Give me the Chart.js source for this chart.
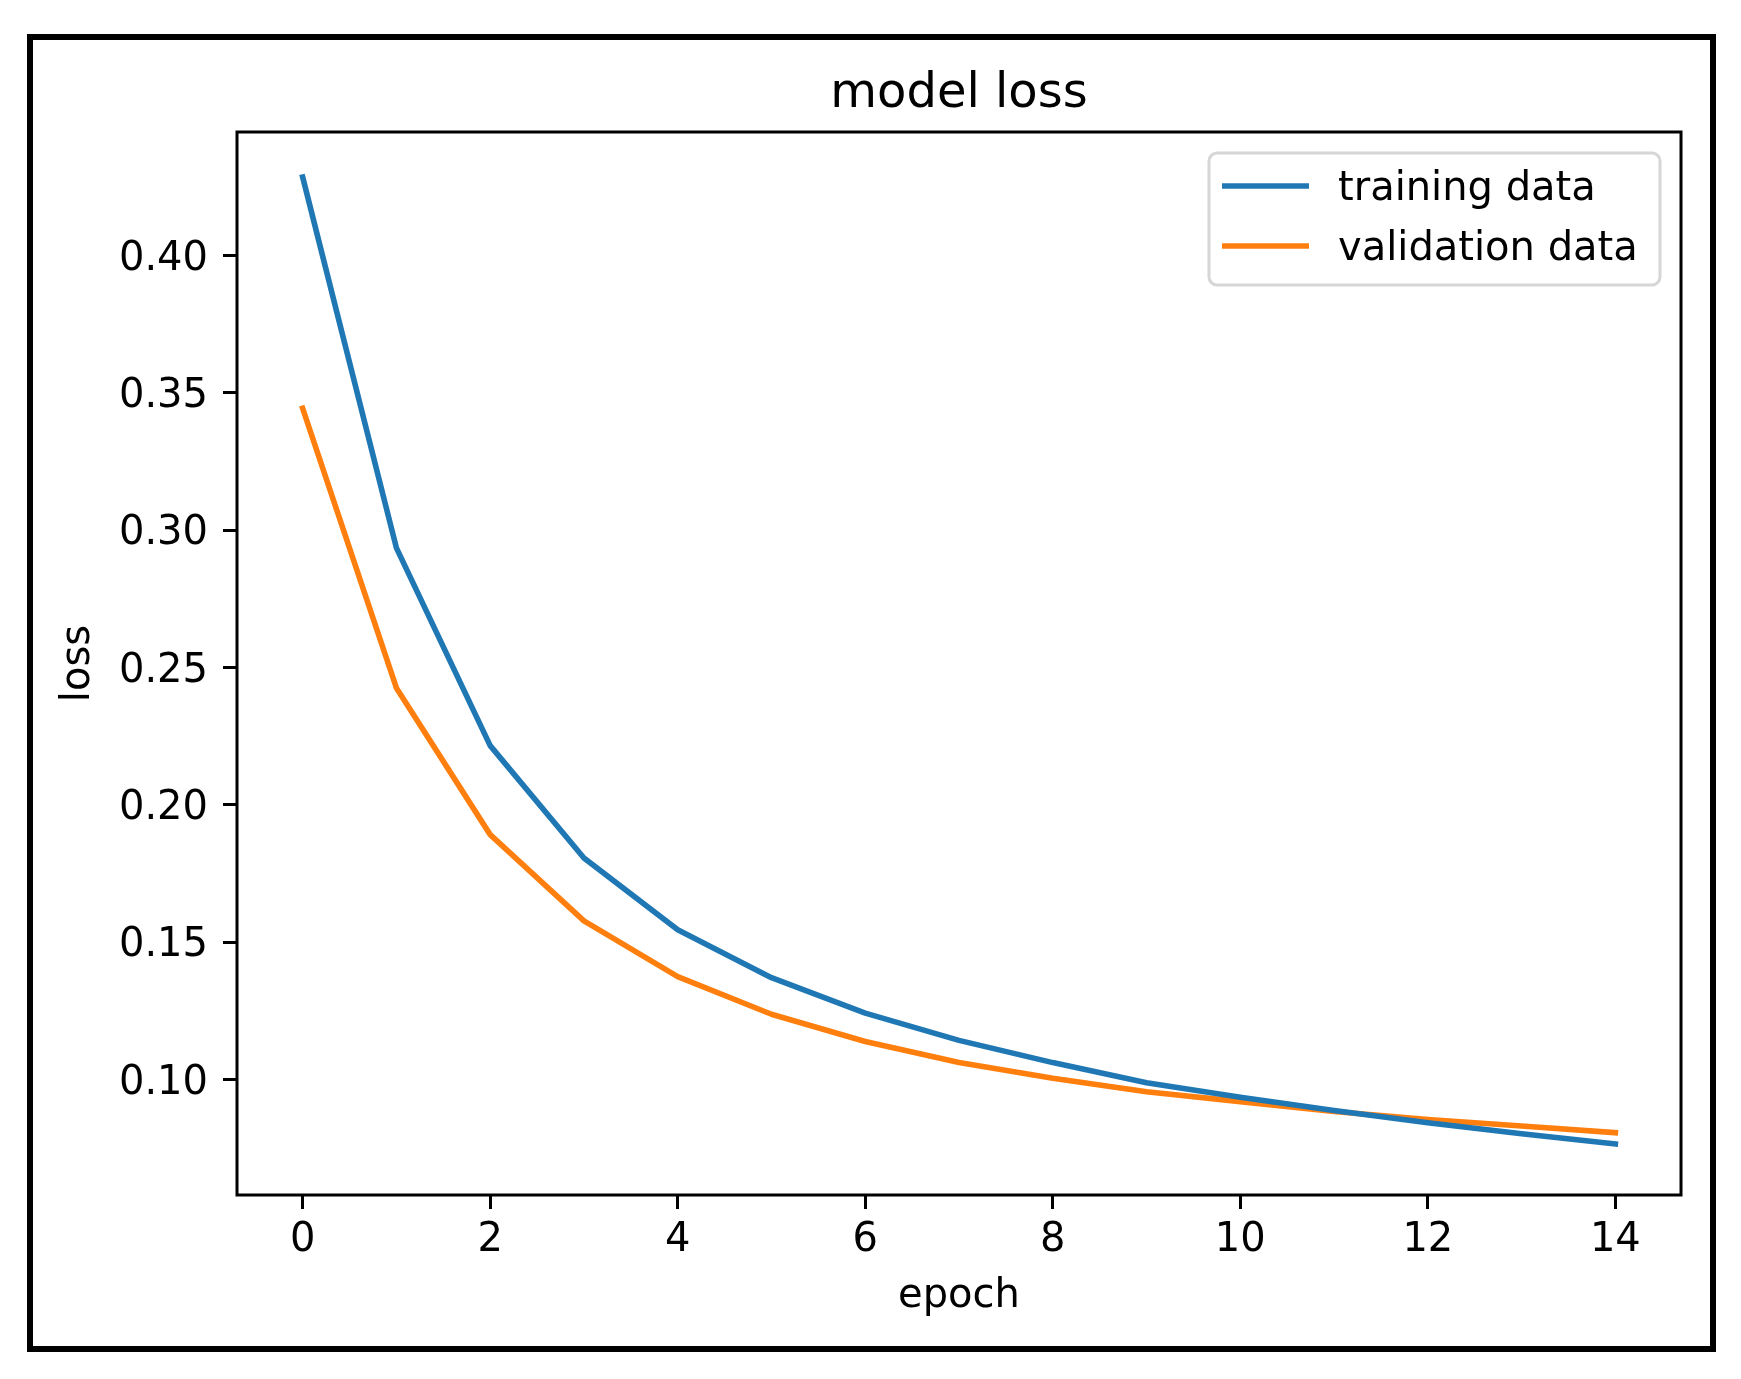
<!DOCTYPE html>
<html>
<head>
<meta charset="utf-8">
<title>model loss</title>
<script src="https://cdn.jsdelivr.net/npm/chart.js"></script>
<style>
  html, body { margin: 0; padding: 0; background: #fff; }
  canvas { display: block; }
</style>
</head>
<body>
<canvas id="lossChart" width="1741" height="1379"></canvas>
<script>
  // values
  const epochs = [0, 1, 2, 3, 4, 5, 6, 7, 8, 9, 10, 11, 12, 13, 14];
  const trainingLoss = [0.4285, 0.2935, 0.2215, 0.1806, 0.1545, 0.1370, 0.1241, 0.1142, 0.1061, 0.0988, 0.0935, 0.0887, 0.0842, 0.0802, 0.0765];
  const validationLoss = [0.3443, 0.2425, 0.1891, 0.1577, 0.1374, 0.1237, 0.1138, 0.1061, 0.1004, 0.0955, 0.0919, 0.0883, 0.0854, 0.0830, 0.0806];
  const seriesLabels = ["training data", "validation data"];
  const xTickValues = [0, 2, 4, 6, 8, 10, 12, 14];
  const yTickValues = [0.10, 0.15, 0.20, 0.25, 0.30, 0.35, 0.40];

  const FONT = "DejaVu Sans";
  Chart.defaults.font.family = FONT;
  Chart.defaults.color = "#000";

  function points(ys) {
    return epochs.map((e, i) => ({ x: e, y: ys[i] }));
  }

  // spines, outer border and the legend box in the upper right corner
  const decorPlugin = {
    id: "decor",
    afterDraw(chart) {
      const ctx = chart.ctx;
      const a = chart.chartArea;

      ctx.save();
      ctx.strokeStyle = "#000";
      ctx.lineWidth = 3;
      ctx.strokeRect(a.left, a.top, a.right - a.left, a.bottom - a.top);

      ctx.lineWidth = 6;
      ctx.strokeRect(30, 37, 1683, 1312);

      // legend
      ctx.beginPath();
      ctx.roundRect(1209, 153, 451, 132, 8);
      ctx.fillStyle = "#fff";
      ctx.fill();
      ctx.lineWidth = 3;
      ctx.strokeStyle = "#d6d6d6";
      ctx.stroke();

      const rows = [186, 246];
      chart.data.datasets.forEach((ds, i) => {
        const y = rows[i];
        ctx.beginPath();
        ctx.moveTo(1222, y);
        ctx.lineTo(1309, y);
        ctx.lineWidth = 5.4;
        ctx.strokeStyle = ds.borderColor;
        ctx.lineCap = "butt";
        ctx.stroke();

        ctx.fillStyle = "#000";
        ctx.font = "40px '" + FONT + "'";
        ctx.textAlign = "left";
        ctx.textBaseline = "alphabetic";
        ctx.fillText(ds.label, 1338, y + 14);
      });
      ctx.restore();
    }
  };

  const tickFont = { family: FONT, size: 40 };

  new Chart(document.getElementById("lossChart"), {
    type: "line",
    data: {
      datasets: [
        {
          label: seriesLabels[0],
          data: points(trainingLoss),
          borderColor: "#1f77b4",
          borderWidth: 5.6,
          pointRadius: 0,
          tension: 0,
          borderCapStyle: "square",
          borderJoinStyle: "round"
        },
        {
          label: seriesLabels[1],
          data: points(validationLoss),
          borderColor: "#ff7f0e",
          borderWidth: 5.6,
          pointRadius: 0,
          tension: 0,
          borderCapStyle: "square",
          borderJoinStyle: "round"
        }
      ]
    },
    options: {
      responsive: false,
      animation: false,
      devicePixelRatio: 1,
      layout: {
        padding: { top: 0, right: 60, bottom: 0, left: 0 }
      },
      plugins: {
        legend: { display: false },
        tooltip: { enabled: false },
        title: {
          display: true,
          text: "model loss",
          fullSize: false,
          color: "#000",
          font: { family: FONT, size: 48, weight: "normal" },
          padding: { top: 66, bottom: 8.4 }
        }
      },
      scales: {
        x: {
          type: "linear",
          min: -0.7,
          max: 14.7,
          afterBuildTicks(scale) {
            scale.ticks = xTickValues.map(v => ({ value: v }));
          },
          afterFit(scale) {
            scale.height = 1379 - 1195;
          },
          border: { display: false },
          grid: {
            drawOnChartArea: false,
            drawTicks: true,
            tickLength: 14,
            tickWidth: 3,
            tickColor: "#000",
            color: "#000"
          },
          ticks: {
            color: "#000",
            font: tickFont,
            padding: 8,
            maxRotation: 0,
            autoSkip: false,
            callback: v => String(v)
          },
          title: {
            display: true,
            text: "epoch",
            color: "#000",
            font: tickFont,
            padding: { top: 0, bottom: 58 }
          }
        },
        y: {
          type: "linear",
          min: 0.0579,
          max: 0.4449,
          afterBuildTicks(scale) {
            scale.ticks = yTickValues.map(v => ({ value: v }));
          },
          afterFit(scale) {
            scale.width = 237;
          },
          border: { display: false },
          grid: {
            drawOnChartArea: false,
            drawTicks: true,
            tickLength: 14,
            tickWidth: 3,
            tickColor: "#000",
            color: "#000"
          },
          ticks: {
            color: "#000",
            font: tickFont,
            padding: 15,
            labelOffset: 4,
            autoSkip: false,
            callback: v => v.toFixed(2)
          },
          title: {
            display: true,
            text: "loss",
            color: "#000",
            font: tickFont,
            padding: { top: 55, bottom: 0 }
          }
        }
      }
    },
    plugins: [decorPlugin]
  });
</script>
</body>
</html>
